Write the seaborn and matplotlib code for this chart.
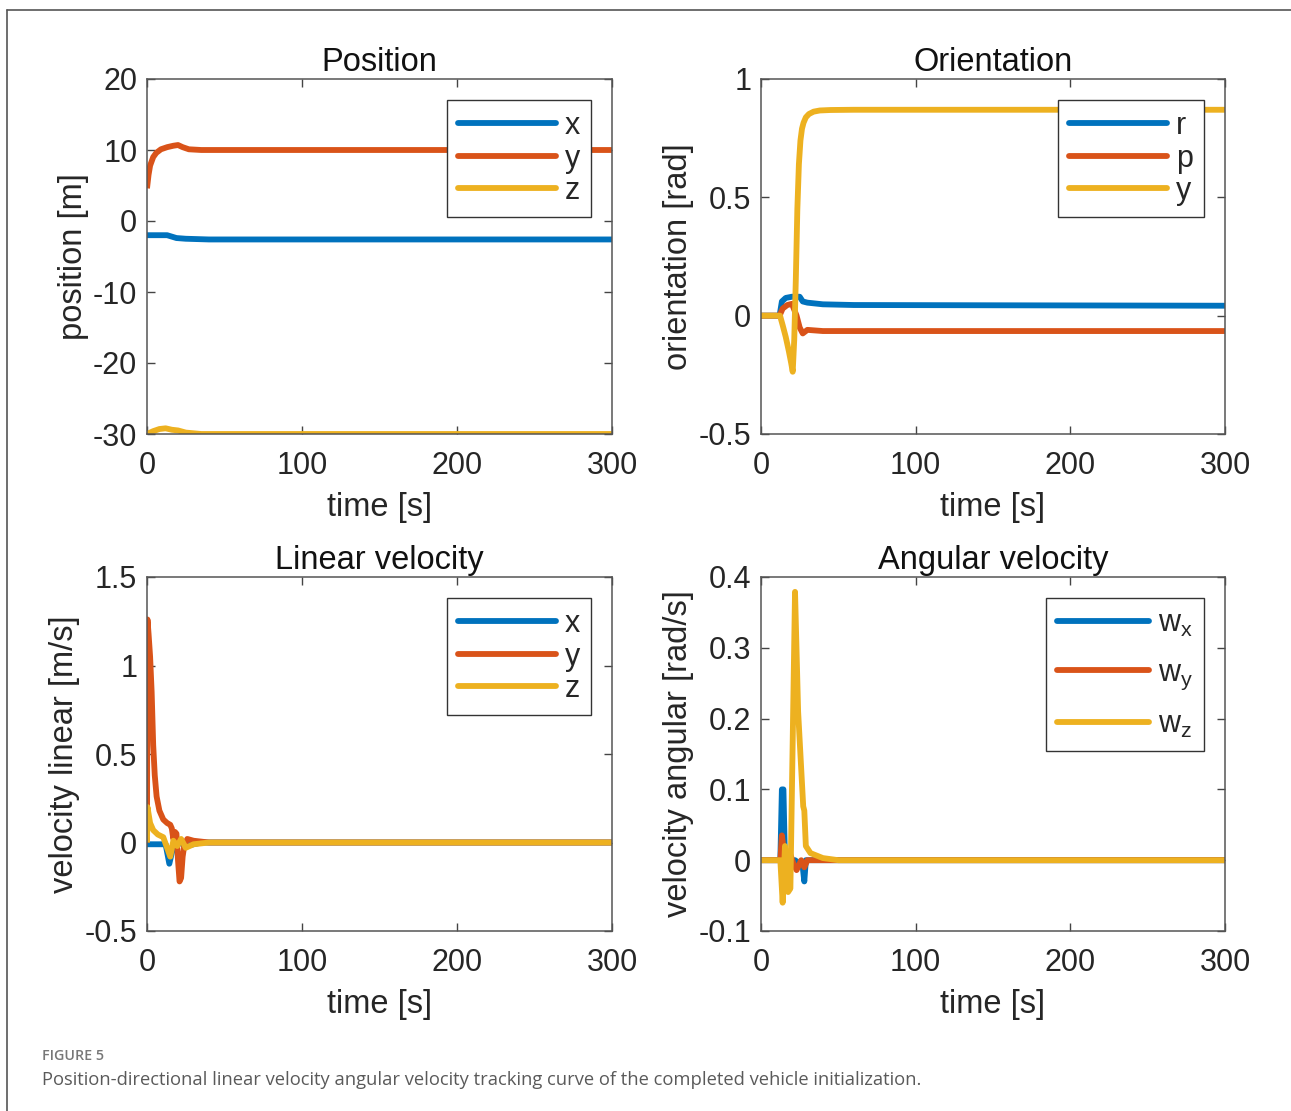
import numpy as np
import pandas as pd
import matplotlib
matplotlib.use("Agg")
import matplotlib.pyplot as plt
from matplotlib.lines import Line2D
import seaborn as sns

# ---------------- data ----------------
# Position [m]
pos_x_t = [0, 13, 16, 19, 25, 40, 300]
pos_x_v = [-2.0, -2.0, -2.2, -2.4, -2.5, -2.6, -2.6]
pos_y_t = [0, 1, 2, 4, 6, 9, 13, 17, 20, 23, 27, 35, 300]
pos_y_v = [4.6, 6.5, 7.8, 9.0, 9.6, 10.1, 10.4, 10.6, 10.7, 10.4, 10.1, 10.0, 10.0]
pos_z_t = [0, 4, 8, 12, 16, 20, 25, 35, 300]
pos_z_v = [-30.0, -29.6, -29.3, -29.2, -29.4, -29.5, -29.8, -30.0, -30.0]

# Orientation [rad]
ori_r_t = [0, 12, 13.5, 16, 20, 25, 27, 30, 40, 60, 300]
ori_r_v = [0, 0, 0.06, 0.075, 0.08, 0.08, 0.06, 0.055, 0.048, 0.045, 0.042]
ori_p_t = [0, 12, 14, 17, 20, 23, 25, 27, 30, 40, 300]
ori_p_v = [0, 0, 0.03, 0.045, 0.05, 0.0, -0.05, -0.075, -0.06, -0.065, -0.065]
ori_y_t = [0, 12.3, 14, 16, 18, 19.5, 20.5, 21.5, 22.5, 23.5, 24.5, 25.5, 26.5,
           27.5, 29, 31, 34, 38, 45, 60, 300]
ori_y_v = [0, 0, -0.04, -0.09, -0.15, -0.2, -0.237, -0.1, 0.15, 0.45, 0.64,
           0.74, 0.79, 0.815, 0.838, 0.852, 0.862, 0.867, 0.869, 0.87, 0.87]

# Linear velocity [m/s]
lin_x_t = [0, 12, 14.4, 17, 21, 25, 35, 300]
lin_x_v = [-0.01, -0.01, -0.12, -0.02, 0.0, -0.02, 0.0, 0.0]
lin_y_t = [0, 0.3, 1, 2, 3, 4, 5, 6.2, 8, 10.5, 13, 15, 16, 17, 18, 19, 20, 21,
           22, 23, 24, 26, 30, 40, 300]
lin_y_v = [0, 1.26, 1.18, 1.05, 0.85, 0.55, 0.38, 0.26, 0.18, 0.13, 0.11, 0.1,
           0.08, 0.02, 0.06, 0.05, -0.1, -0.22, -0.2, -0.08, -0.02, 0.02, 0.01,
           0.0, 0.0]
lin_z_t = [0, 0.3, 2, 4, 7, 10.5, 15, 17, 19.5, 22, 25, 30, 40, 300]
lin_z_v = [0, 0.2, 0.11, 0.07, 0.045, 0.03, -0.08, 0.01, -0.02, 0.02, -0.03,
           -0.01, 0.0, 0.0]

# Angular velocity [rad/s]
ang_x_t = [0, 12.5, 13.5, 14.5, 15.5, 18, 22, 25, 27, 28, 29, 32, 300]
ang_x_v = [0, 0, 0.1, 0.1, 0.0, -0.005, 0.0, -0.005, -0.01, -0.03, 0.0, 0.0, 0.0]
ang_y_t = [0, 12.5, 13.5, 15, 16, 19, 21, 23, 26, 28, 30, 300]
ang_y_v = [0, 0, 0.035, 0.01, 0.0, 0.008, -0.005, -0.014, 0.0, -0.01, 0.0, 0.0]
ang_z_t = [0, 12.5, 14, 15.5, 17.5, 19, 22, 24, 27.3, 28, 29, 32, 40, 50, 300]
ang_z_v = [0, 0, -0.06, 0.02, -0.045, -0.04, 0.379, 0.21, 0.076, 0.07, 0.02,
           0.01, 0.003, 0.0, 0.0]

x_ticks = [0, 100, 200, 300]

# ---------------- styling ----------------
sns.set_theme(style="white")
plt.rcParams['font.family'] = ['Liberation Sans', 'DejaVu Sans']
plt.rcParams['mathtext.fontset'] = 'custom'
plt.rcParams['mathtext.rm'] = 'Liberation Sans'
plt.rcParams['mathtext.it'] = 'Liberation Sans'

C = ['#0072BD', '#D95319', '#EDB120']
LW = 4.2
TICK_FS = 22
LAB_FS = 23.5
TXT = '#262626'

W, H = 1291, 1111
fig = plt.figure(figsize=(W / 100, H / 100), dpi=100)


def ax_at(l, t, r, b):
    return fig.add_axes([l / W, 1 - b / H, (r - l) / W, (b - t) / H])


panels = [
    dict(box=(147, 79, 612, 434), title='Position', ylabel='position [m]',
         ylim=(-30, 20), yticks=[-30, -20, -10, 0, 10, 20],
         series=[(pos_x_t, pos_x_v), (pos_y_t, pos_y_v), (pos_z_t, pos_z_v)],
         labels=['x', 'y', 'z'], ls=0.08, bp=0.35, hl=3.2),
    dict(box=(761, 79, 1225, 434), title='Orientation', ylabel='orientation [rad]',
         ylim=(-0.5, 1), yticks=[-0.5, 0, 0.5, 1],
         series=[(ori_r_t, ori_r_v), (ori_p_t, ori_p_v), (ori_y_t, ori_y_v)],
         labels=['r', 'p', 'y'], ls=0.08, bp=0.35, hl=3.2),
    dict(box=(147, 577, 612, 931), title='Linear velocity', ylabel='velocity linear [m/s]',
         ylim=(-0.5, 1.5), yticks=[-0.5, 0, 0.5, 1, 1.5],
         series=[(lin_x_t, lin_x_v), (lin_y_t, lin_y_v), (lin_z_t, lin_z_v)],
         labels=['x', 'y', 'z'], ls=0.08, bp=0.35, hl=3.2),
    dict(box=(761, 577, 1225, 931), title='Angular velocity', ylabel='velocity angular [rad/s]',
         ylim=(-0.1, 0.4), yticks=[-0.1, 0, 0.1, 0.2, 0.3, 0.4],
         series=[(ang_x_t, ang_x_v), (ang_y_t, ang_y_v), (ang_z_t, ang_z_v)],
         labels=[r'w$_{\mathregular{x}}$', r'w$_{\mathregular{y}}$', r'w$_{\mathregular{z}}$'],
         ls=0.6, bp=0.35, hl=3.0),
]


def fmt(v):
    return '%g' % v


for p in panels:
    ax = ax_at(*p['box'])
    for (t, v), c in zip(p['series'], C):
        df = pd.DataFrame({'t': t, 'v': v})
        sns.lineplot(data=df, x='t', y='v', ax=ax, color=c, linewidth=LW,
                     estimator=None, sort=False, legend=False,
                     solid_capstyle='butt', solid_joinstyle='round')
    ax.set_xlim(0, 300)
    ax.set_ylim(*p['ylim'])
    ax.set_xticks(x_ticks)
    ax.set_xticklabels([fmt(v) for v in x_ticks])
    ax.set_yticks(p['yticks'])
    ax.set_yticklabels([fmt(v) for v in p['yticks']])
    ax.tick_params(direction='in', length=6, width=1, colors='#444444',
                   labelcolor=TXT, labelsize=TICK_FS, top=True, right=True,
                   bottom=True, left=True)
    ax.tick_params(axis='x', pad=12)
    ax.tick_params(axis='y', pad=7)
    for s in ax.spines.values():
        s.set_color('#555555')
        s.set_linewidth(1.1)
        s.set_visible(True)
    ax.set_xlabel('time [s]', fontsize=LAB_FS, color=TXT, labelpad=8)
    ax.set_ylabel(p['ylabel'], fontsize=LAB_FS, color=TXT, labelpad=3)
    ax.set_title(p['title'], fontsize=LAB_FS, color='#111111', pad=6)
    handles = [Line2D([], [], color=c, lw=LW) for c in C]
    leg = ax.legend(handles, p['labels'], loc='upper right', fontsize=TICK_FS,
                    frameon=True, fancybox=False, framealpha=1,
                    edgecolor='#333333', handlelength=p['hl'], handletextpad=0.3,
                    labelspacing=p['ls'], borderpad=p['bp'], borderaxespad=0.7)
    leg.get_frame().set_linewidth(1.0)
    for txt in leg.get_texts():
        txt.set_color(TXT)

# outer frame and caption
fig.add_artist(Line2D([7 / W, 7 / W], [0, 1 - 10 / H], color='#555555', lw=1.2))
fig.add_artist(Line2D([7 / W, 1], [1 - 10 / H, 1 - 10 / H], color='#555555', lw=1.2))
fig.text(42 / W, 1 - 1056 / H, 'FIGURE 5', fontsize=10.3, fontweight='semibold',
         color='#777777', family=['Open Sans', 'DejaVu Sans'], va='center', ha='left')
fig.text(42 / W, 1 - 1080 / H,
         'Position-directional linear velocity angular velocity tracking curve of the completed vehicle initialization.',
         fontsize=13.2, color='#5a5a5a', family=['Open Sans', 'DejaVu Sans'],
         va='center', ha='left')

fig.savefig('out.png', dpi=100, facecolor='white')
